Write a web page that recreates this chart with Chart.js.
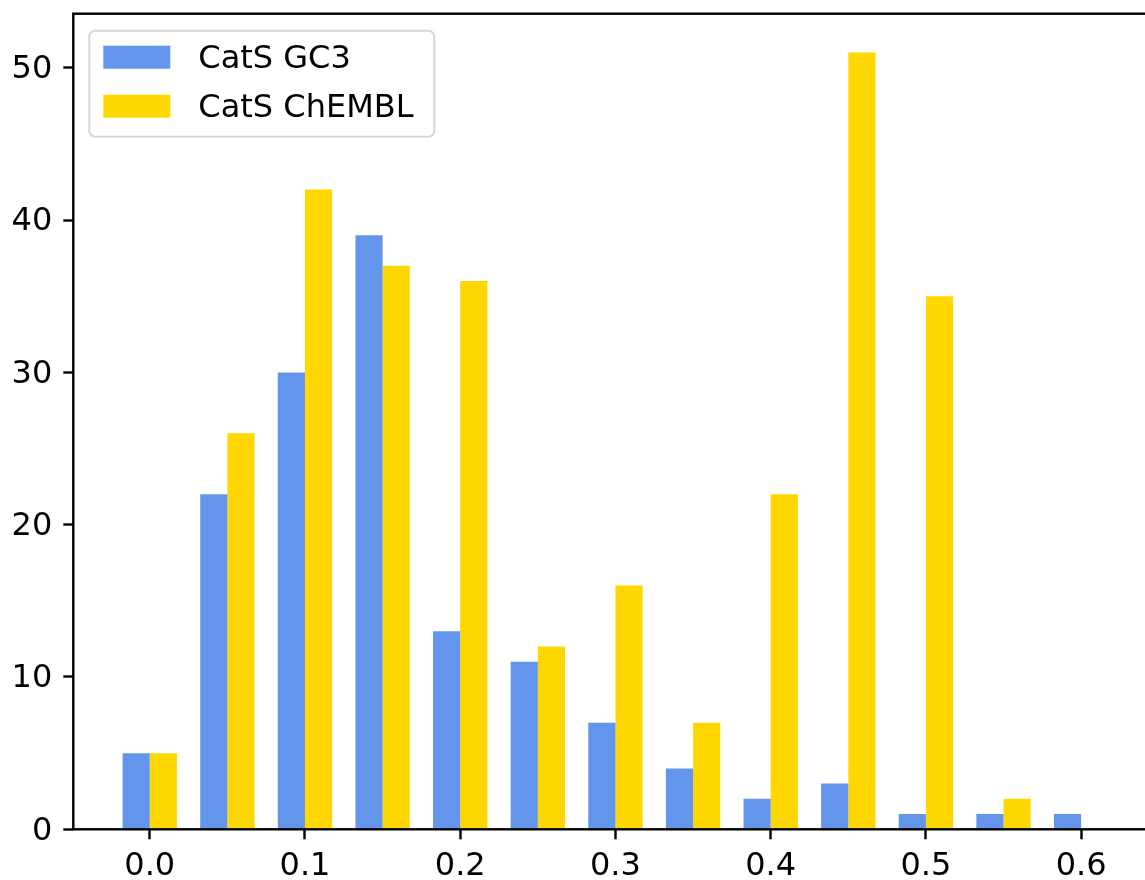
<!DOCTYPE html>
<html>
<head>
<meta charset="utf-8">
<script src="https://cdn.jsdelivr.net/npm/chart.js@4/dist/chart.umd.min.js"></script>
<style>
  html, body { margin: 0; padding: 0; background: #ffffff; overflow: hidden; }
  canvas { display: block; }
</style>
</head>
<body>
<canvas id="hist" width="1170" height="880"></canvas>
<script>
// Histogram bins (centres) and counts per dataset
const binCenters   = [0.00, 0.05, 0.10, 0.15, 0.20, 0.25, 0.30, 0.35, 0.40, 0.45, 0.50, 0.55, 0.60];
const gc3Counts    = [5, 22, 30, 39, 13, 11, 7, 4, 2, 3, 1, 1, 1];
const chemblCounts = [5, 26, 42, 37, 36, 12, 16, 7, 22, 51, 35, 2, 0];
const seriesNames  = ['CatS GC3', 'CatS ChEMBL'];
const seriesColors = ['#6495ED', '#FFD700'];
const xTickValues  = [0.0, 0.1, 0.2, 0.3, 0.4, 0.5, 0.6];
const yTickValues  = [0, 10, 20, 30, 40, 50];

const FONT = 'DejaVu Sans';
const LINE_W = 2.4;

const toPoints = (vals) => vals.map((v, i) => ({ x: binCenters[i], y: v }));

// Axes frame (all four spines) drawn over the bars
const framePlugin = {
  id: 'frame',
  afterDatasetsDraw(chart) {
    const a = chart.chartArea, ctx = chart.ctx;
    ctx.save();
    ctx.strokeStyle = '#000';
    ctx.lineWidth = LINE_W;
    ctx.strokeRect(a.left, a.top, a.right - a.left, a.bottom - a.top);
    ctx.restore();
  }
};

// Legend box in the upper-left corner of the plot area
const boxLegendPlugin = {
  id: 'boxLegend',
  afterDraw(chart) {
    const ctx = chart.ctx;
    const a = chart.chartArea;
    const x0 = a.left + 16, y0 = a.top + 17, w = 345, h = 106, r = 6;
    ctx.save();
    ctx.beginPath();
    ctx.roundRect(x0, y0, w, h, r);
    ctx.fillStyle = 'rgba(255,255,255,0.8)';
    ctx.fill();
    ctx.lineWidth = 2;
    ctx.strokeStyle = '#d6d6d6';
    ctx.stroke();
    ctx.font = '32px "' + FONT + '"';
    ctx.textBaseline = 'middle';
    ctx.textAlign = 'left';
    chart.data.datasets.forEach((ds, i) => {
      const cy = y0 + 26.5 + i * 49;
      ctx.fillStyle = ds.backgroundColor;
      ctx.fillRect(x0 + 14, cy - 11.5, 67, 23);
      ctx.fillStyle = '#000';
      ctx.fillText(ds.label, x0 + 109, cy + 2.5);
    });
    ctx.restore();
  }
};

new Chart(document.getElementById('hist'), {
  type: 'bar',
  data: {
    datasets: [
      { label: seriesNames[0], data: toPoints(gc3Counts), backgroundColor: seriesColors[0], borderWidth: 0 },
      { label: seriesNames[1], data: toPoints(chemblCounts), backgroundColor: seriesColors[1], borderWidth: 0 }
    ]
  },
  options: {
    responsive: false,
    animation: false,
    devicePixelRatio: 1,
    layout: { padding: { top: 13.7, right: 12.4, left: 0, bottom: 0 } },
    datasets: { bar: { categoryPercentage: 0.7, barPercentage: 1.0, grouped: true } },
    plugins: { legend: { display: false }, tooltip: { enabled: false } },
    scales: {
      x: {
        type: 'linear',
        min: -0.04925,
        max: 0.64925,
        offset: false,
        afterBuildTicks: (s) => { s.ticks = xTickValues.map(v => ({ value: v })); },
        afterFit: (s) => { s.height = 50.7; s.paddingLeft = 0; s.paddingRight = 0; },
        grid: { display: true, offset: false, drawOnChartArea: false, drawTicks: true, tickLength: 10, tickWidth: LINE_W, tickColor: '#000' },
        border: { display: false },
        ticks: {
          autoSkip: false, maxRotation: 0, padding: 8,
          color: '#000', font: { family: FONT, size: 32 },
          callback: (v) => Number(v).toFixed(1)
        }
      },
      y: {
        type: 'linear',
        min: 0,
        max: 53.55,
        afterBuildTicks: (s) => { s.ticks = yTickValues.map(v => ({ value: v })); },
        afterFit: (s) => { s.width = 73.3; s.paddingTop = 0; s.paddingBottom = 0; },
        grid: { display: true, drawOnChartArea: false, drawTicks: true, tickLength: 10, tickWidth: LINE_W, tickColor: '#000' },
        border: { display: false },
        ticks: {
          padding: 11, labelOffset: 2,
          color: '#000', font: { family: FONT, size: 32 },
          callback: (v) => String(v)
        }
      }
    }
  },
  plugins: [framePlugin, boxLegendPlugin]
});
</script>
</body>
</html>
